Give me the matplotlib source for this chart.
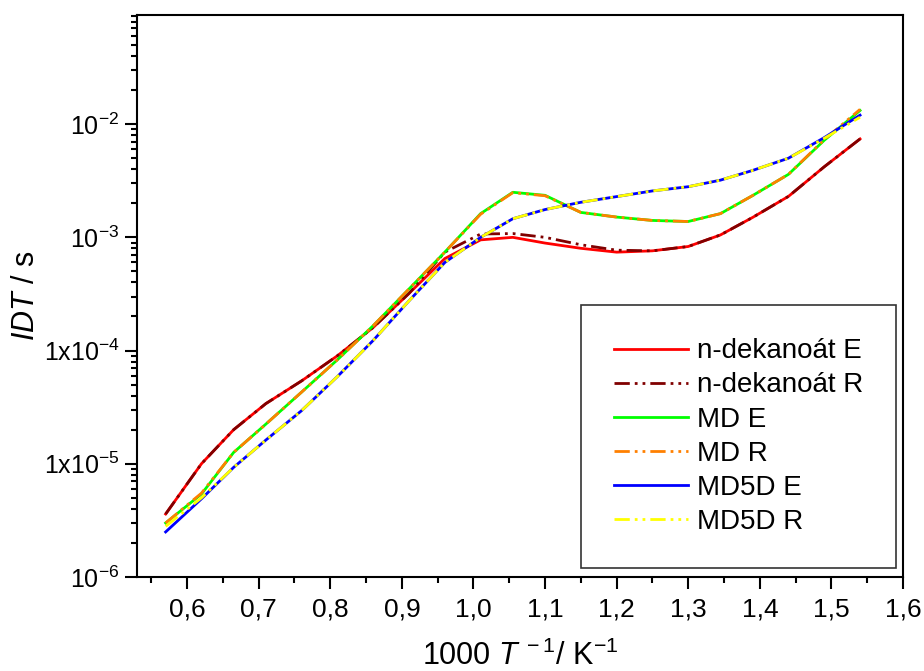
import matplotlib
matplotlib.use("Agg")
import matplotlib.pyplot as plt
from matplotlib.ticker import FixedLocator, FixedFormatter, LogLocator, NullFormatter, MultipleLocator

# ---- data ----
x_inv_T = [0.570, 0.620, 0.665, 0.710, 0.760, 0.810, 0.860, 0.910, 0.960, 1.010, 1.055,
           1.100, 1.150, 1.200, 1.250, 1.300, 1.345, 1.390, 1.440, 1.490, 1.540]

ndek_E = [3.6e-6, 1.0e-5, 2.0e-5, 3.4e-5, 5.4e-5, 9.0e-5, 1.6e-4, 3.2e-4, 6.5e-4, 9.5e-4, 1.0e-3,
          8.9e-4, 8.0e-4, 7.4e-4, 7.6e-4, 8.3e-4, 1.05e-3, 1.5e-3, 2.3e-3, 4.2e-3, 7.4e-3]
ndek_R = [3.6e-6, 1.0e-5, 2.0e-5, 3.4e-5, 5.4e-5, 9.0e-5, 1.6e-4, 3.2e-4, 7.4e-4, 1.07e-3, 1.08e-3,
          1.0e-3, 8.6e-4, 7.7e-4, 7.6e-4, 8.3e-4, 1.05e-3, 1.5e-3, 2.3e-3, 4.2e-3, 7.4e-3]
MD_E = [3.0e-6, 5.4e-6, 1.26e-5, 2.24e-5, 4.3e-5, 8.3e-5, 1.66e-4, 3.5e-4, 7.4e-4, 1.62e-3, 2.5e-3,
        2.35e-3, 1.66e-3, 1.51e-3, 1.41e-3, 1.38e-3, 1.62e-3, 2.34e-3, 3.6e-3, 7.2e-3, 1.32e-2]
MD_R = [3.0e-6, 5.5e-6, 1.26e-5, 2.24e-5, 4.3e-5, 8.3e-5, 1.66e-4, 3.5e-4, 7.4e-4, 1.6e-3, 2.48e-3,
        2.33e-3, 1.66e-3, 1.51e-3, 1.41e-3, 1.38e-3, 1.62e-3, 2.34e-3, 3.6e-3, 7.3e-3, 1.35e-2]
MD5D_E = [2.5e-6, 4.9e-6, 9.3e-6, 1.62e-5, 2.95e-5, 5.9e-5, 1.23e-4, 2.75e-4, 6.0e-4, 1.0e-3, 1.46e-3,
          1.76e-3, 2.04e-3, 2.29e-3, 2.57e-3, 2.8e-3, 3.2e-3, 3.9e-3, 5.0e-3, 7.6e-3, 1.2e-2]
MD5D_R = [2.8e-6, 5.0e-6, 9.3e-6, 1.62e-5, 2.95e-5, 5.9e-5, 1.23e-4, 2.75e-4, 6.0e-4, 1.0e-3, 1.46e-3,
          1.76e-3, 2.04e-3, 2.29e-3, 2.57e-3, 2.8e-3, 3.2e-3, 3.9e-3, 5.0e-3, 7.5e-3, 1.15e-2]

labels = ["n-dekanoát E", "n-dekanoát R", "MD E", "MD R", "MD5D E", "MD5D R"]
x_ticks = [0.6, 0.7, 0.8, 0.9, 1.0, 1.1, 1.2, 1.3, 1.4, 1.5, 1.6]
x_ticklabels = ["0,6", "0,7", "0,8", "0,9", "1,0", "1,1", "1,2", "1,3", "1,4", "1,5", "1,6"]
y_ticks = [1e-6, 1e-5, 1e-4, 1e-3, 1e-2]
y_ticklabels = ["10$^{-6}$", "1x10$^{-5}$", "1x10$^{-4}$", "10$^{-3}$", "10$^{-2}$"]

plt.rcParams["mathtext.fontset"] = "custom"
plt.rcParams["mathtext.rm"] = "Liberation Sans"
plt.rcParams["mathtext.it"] = "Liberation Sans:italic"
plt.rcParams["font.family"] = ["Liberation Sans", "DejaVu Sans"]

fig = plt.figure(figsize=(9.24, 6.71), dpi=100)
ax = fig.add_axes([137/924, 1-577/671, (903-137)/924, (577-15)/671])

lw = 2.0
dd = (5.5, 1.8, 1.0, 1.8, 1.0, 1.8)
ax.plot(x_inv_T, ndek_E, color="#FF0000", lw=lw, label=labels[0])
ax.plot(x_inv_T, ndek_R, color="#800000", lw=lw, dashes=dd, label=labels[1])
ax.plot(x_inv_T, MD_E, color="#00FF00", lw=lw, label=labels[2])
ax.plot(x_inv_T, MD_R, color="#FF8000", lw=lw, dashes=dd, label=labels[3])
ax.plot(x_inv_T, MD5D_E, color="#0000FF", lw=lw, label=labels[4])
ax.plot(x_inv_T, MD5D_R, color="#FFFF00", lw=lw, dashes=dd, label=labels[5])

ax.set_yscale("log")
ax.set_xlim(0.53, 1.6)
ax.set_ylim(1e-6, 0.092)

ax.xaxis.set_major_locator(FixedLocator(x_ticks))
ax.xaxis.set_major_formatter(FixedFormatter(x_ticklabels))
ax.xaxis.set_minor_locator(MultipleLocator(0.05))
ax.yaxis.set_major_locator(FixedLocator(y_ticks))
ax.yaxis.set_major_formatter(FixedFormatter(y_ticklabels))
ax.yaxis.set_minor_locator(LogLocator(base=10, subs=[2, 3, 4, 5, 6, 7, 8, 9], numticks=20))
ax.yaxis.set_minor_formatter(NullFormatter())

ax.tick_params(which="both", direction="out", top=False, right=False, width=1.5)
ax.tick_params(which="major", length=8.5)
ax.tick_params(which="minor", length=4.5)
for lab in ax.get_xticklabels():
    lab.set_family(["Liberation Sans Narrow", "Liberation Sans"])
    lab.set_fontsize(19)
for lab in ax.get_yticklabels():
    lab.set_fontsize(18)
ax.tick_params(axis="x", pad=6)
ax.tick_params(axis="y", pad=4)

for s in ax.spines.values():
    s.set_linewidth(1.5)

ax.set_xlabel("1000 $\\mathit{T}$$^{\\ -1}$/ K$^{-1}$", fontsize=22,
              family=["Liberation Sans Narrow", "Liberation Sans"], labelpad=14)
ax.set_ylabel("$\\mathit{IDT}$ / s", fontsize=22, labelpad=2)

leg = ax.legend(loc="lower right", bbox_to_anchor=(0.991, 0.016), borderaxespad=0,
                fontsize=20, frameon=True, fancybox=False, edgecolor="black",
                handlelength=2.66, handletextpad=0.3, borderpad=1.2, labelspacing=0.29)
leg.get_frame().set_linewidth(1.2)

fig.savefig("out.png", dpi=100)
